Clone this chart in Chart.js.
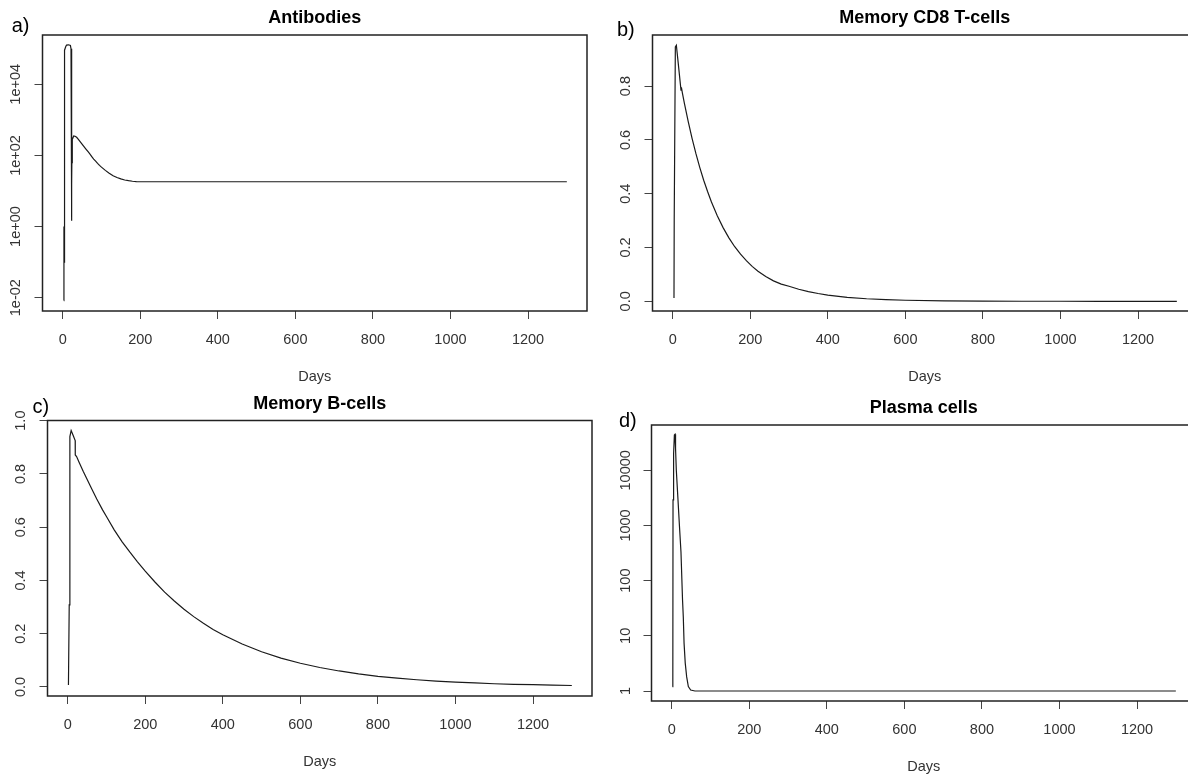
<!DOCTYPE html>
<html>
<head>
<meta charset="utf-8">
<script src="https://cdn.jsdelivr.net/npm/chart.js@4.4.1/dist/chart.umd.min.js"></script>
<style>
    html, body { margin: 0; padding: 0; background: #fff; overflow: hidden; width: 1188px; height: 776px; }
    canvas { position: absolute; }
</style>
</head>
<body>
<canvas id="panelA" width="600" height="388" style="left:0;top:0"></canvas>
<canvas id="panelB" width="600" height="388" style="left:600px;top:0"></canvas>
<canvas id="panelC" width="600" height="388" style="left:0;top:388px"></canvas>
<canvas id="panelD" width="600" height="388" style="left:600px;top:388px"></canvas>
<script>
// =========================
// Data
// =========================
const xTicks = [0, 200, 400, 600, 800, 1000, 1200];

const antibodyDays = [3, 3.3, 3.6, 4, 4.5, 6, 8, 10, 15, 20, 21.5, 22.3, 24, 24.3, 24.6, 25, 28.5, 32, 36, 40, 45, 50, 55, 60, 65, 70, 75, 80, 85, 90, 95, 100, 110, 120, 130, 140, 150, 160, 170, 180, 190, 200, 400, 600, 800, 1000, 1300];
const antibodyValues = [0.0083, 1.0, 0.1, 1.0, 44, 91000, 115000, 126000, 129000, 123000, 100000, 1.46, 15, 270, 60, 282, 352, 347, 324, 288, 245, 209, 178, 151, 129, 110, 93, 79, 69, 60, 52.5, 46.8, 38, 31.6, 26.9, 24, 21.9, 20.4, 19.5, 18.8, 18.4, 18.2, 18.2, 18.2, 18.2, 18.2, 18.2];
const antibodyTicks = [0.01, 1, 100, 10000];
const antibodyTickLabels = ["1e-02", "1e+00", "1e+02", "1e+04"];

const cd8Days = [3.4, 4, 6.9, 9.5, 14, 20.4, 21.5, 22.5, 25, 30, 35, 40, 50, 60, 70, 80, 90, 100, 115, 130, 145, 160, 175, 190, 205, 220, 240, 260, 280, 300, 325, 350, 375, 400, 450, 500, 550, 600, 700, 800, 900, 1000, 1100, 1200, 1300];
const cd8Values = [0.0126, 0.309, 0.946, 0.952, 0.89, 0.80, 0.785, 0.795, 0.775, 0.738, 0.703, 0.669, 0.606, 0.549, 0.497, 0.45, 0.408, 0.369, 0.318, 0.274, 0.236, 0.203, 0.175, 0.151, 0.13, 0.112, 0.092, 0.076, 0.064, 0.056, 0.045, 0.036, 0.029, 0.023, 0.015, 0.0095, 0.006, 0.004, 0.0017, 0.0007, 0.0003, 0.0002, 0.0001, 0.0001, 0.0001];
const cd8Ticks = [0, 0.2, 0.4, 0.6, 0.8];
const cd8TickLabels = ["0.0", "0.2", "0.4", "0.6", "0.8"];

const bcellDays = [2, 4, 5.7, 9, 14, 19.4, 19.6, 23, 30, 40, 50, 60, 75, 90, 100, 120, 140, 160, 180, 200, 225, 250, 275, 300, 325, 350, 375, 400, 450, 500, 550, 600, 650, 700, 750, 800, 850, 900, 950, 1000, 1050, 1100, 1150, 1200, 1250, 1300];
const bcellValues = [0.0075, 0.308, 0.94, 0.963, 0.945, 0.925, 0.871, 0.865, 0.842, 0.81, 0.78, 0.75, 0.706, 0.665, 0.64, 0.59, 0.546, 0.507, 0.47, 0.435, 0.394, 0.356, 0.323, 0.292, 0.264, 0.239, 0.216, 0.196, 0.161, 0.132, 0.108, 0.089, 0.073, 0.06, 0.049, 0.04, 0.033, 0.027, 0.022, 0.018, 0.015, 0.012, 0.01, 0.0085, 0.007, 0.0055];
const bcellTicks = [0, 0.2, 0.4, 0.6, 0.8, 1.0];
const bcellTickLabels = ["0.0", "0.2", "0.4", "0.6", "0.8", "1.0"];

const plasmaDays = [2, 3, 3.5, 5, 7, 8.6, 10, 12, 16, 20, 24, 28, 30, 32, 35, 38.7, 43, 49, 60, 200, 400, 600, 800, 1000, 1200, 1300];
const plasmaValues = [1.2, 1.5, 2900, 20000, 43600, 45000, 25000, 10000, 3200, 1000, 330, 45, 22, 7.3, 3.2, 1.8, 1.2, 1.04, 1.0, 1.0, 1.0, 1.0, 1.0, 1.0, 1.0, 1.0];
const plasmaTicks = [1, 10, 100, 1000, 10000];
const plasmaTickLabels = ["1", "10", "100", "1000", "10000"];

Chart.defaults.font.family = "'Liberation Sans', Arial, sans-serif";

// =========================
// R style frame, title, letter
// =========================
const rFrame = {
    id: "rFrame",
    afterDraw(chart, args, opts) {
        const ctx = chart.ctx;
        const a = chart.chartArea;
        ctx.save();
        ctx.strokeStyle = "#222";
        ctx.lineWidth = 1.5;
        ctx.strokeRect(a.left, a.top, a.right - a.left, a.bottom - a.top);

        const cx = (a.left + a.right) / 2;
        ctx.fillStyle = "#000";
        ctx.textAlign = "center";
        ctx.textBaseline = "middle";
        ctx.font = "bold 18px 'Liberation Sans', Arial, sans-serif";
        ctx.fillText(opts.title, cx, a.top - 16.7);

        ctx.fillStyle = "#333";
        ctx.font = "14.5px 'Liberation Sans', Arial, sans-serif";
        ctx.fillText("Days", cx, a.bottom + 66);

        ctx.fillStyle = "#000";
        ctx.textAlign = "left";
        ctx.font = "20px 'Liberation Sans', Arial, sans-serif";
        ctx.fillText(opts.letter, opts.letterX, opts.letterY);
        ctx.restore();
    }
};

function makePanel(id, p) {
    const canvas = document.getElementById(id);
    const axisGrid = { drawOnChartArea: false, drawTicks: true, tickLength: 8, color: "#444", lineWidth: 1 };

    return new Chart(canvas, {
        type: "line",
        data: {
            datasets: [{
                data: p.days.map((d, i) => ({ x: d, y: p.values[i] })),
                borderColor: "#1a1a1a",
                borderWidth: 1.2,
                pointRadius: 0,
                tension: 0,
                fill: false
            }]
        },
        options: {
            responsive: false,
            animation: false,
            events: [],
            layout: {
                padding: { left: 0, top: p.box.t, right: canvas.width - p.box.r, bottom: canvas.height - p.box.b - 60 }
            },
            plugins: {
                legend: { display: false },
                tooltip: { enabled: false },
                rFrame: { title: p.title, letter: p.letter, letterX: p.letterX, letterY: p.letterY }
            },
            scales: {
                x: {
                    type: "linear",
                    min: -52,
                    max: 1352,
                    afterBuildTicks: s => { s.ticks = xTicks.map(v => ({ value: v })); },
                    afterFit: s => { s.height = 60; },
                    grid: axisGrid,
                    border: { display: false },
                    ticks: {
                        padding: 12, color: "#333", font: { size: 14.5 }, maxRotation: 0, autoSkip: false,
                        callback: v => String(v)
                    }
                },
                y: {
                    type: p.yType,
                    min: p.yMin,
                    max: p.yMax,
                    afterBuildTicks: s => { s.ticks = p.yTicks.map(v => ({ value: v })); },
                    afterFit: s => { s.width = p.box.l; },
                    grid: axisGrid,
                    border: { display: false },
                    ticks: {
                        minRotation: 90,
                        maxRotation: 90,
                        crossAlign: "center",
                        padding: p.yPad,
                        autoSkip: false,
                        color: "#333",
                        font: { size: 14.5 },
                        callback: (v, i) => p.yLabels[i]
                    }
                }
            }
        },
        plugins: [rFrame]
    });
}

makePanel("panelA", {
    title: "Antibodies", letter: "a)", letterX: 11.7, letterY: 26.5,
    box: { l: 42.5, t: 35, r: 587, b: 311 },
    days: antibodyDays, values: antibodyValues,
    yType: "logarithmic", yMin: Math.pow(10, -2.374), yMax: Math.pow(10, 5.386),
    yTicks: antibodyTicks, yLabels: antibodyTickLabels, yPad: -2
});

makePanel("panelB", {
    title: "Memory CD8 T-cells", letter: "b)", letterX: 17, letterY: 30,
    box: { l: 52.5, t: 35, r: 597, b: 311 },
    days: cd8Days, values: cd8Values,
    yType: "linear", yMin: -0.036, yMax: 0.99,
    yTicks: cd8Ticks, yLabels: cd8TickLabels, yPad: 8.4
});

makePanel("panelC", {
    title: "Memory B-cells", letter: "c)", letterX: 32.5, letterY: 19.5,
    box: { l: 47.5, t: 32.5, r: 592, b: 308 },
    days: bcellDays, values: bcellValues,
    yType: "linear", yMin: -0.034, yMax: 1.0005,
    yTicks: bcellTicks, yLabels: bcellTickLabels, yPad: 8.4
});

makePanel("panelD", {
    title: "Plasma cells", letter: "d)", letterX: 19, letterY: 33,
    box: { l: 51.5, t: 37, r: 596, b: 313 },
    days: plasmaDays, values: plasmaValues,
    yType: "logarithmic", yMin: Math.pow(10, -0.181), yMax: Math.pow(10, 4.821),
    yTicks: plasmaTicks, yLabels: plasmaTickLabels, yPad: -2.65
});
</script>
</body>
</html>
